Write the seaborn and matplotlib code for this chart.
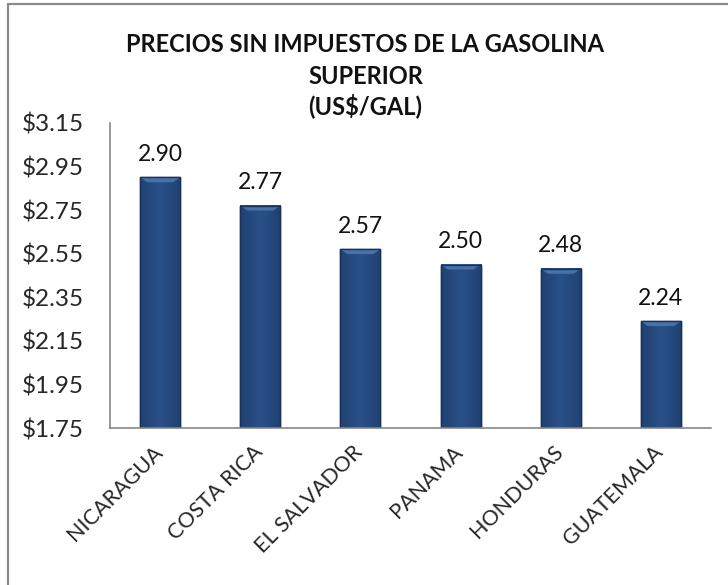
import numpy as np
import pandas as pd
import matplotlib
matplotlib.use("Agg")
import matplotlib.pyplot as plt
import matplotlib.transforms as mtrans
from matplotlib.patches import Rectangle
import seaborn as sns

countries = ["NICARAGUA", "COSTA RICA", "EL SALVADOR", "PANAMA", "HONDURAS", "GUATEMALA"]
prices = [2.90, 2.77, 2.57, 2.50, 2.48, 2.24]
value_labels = ["2.90", "2.77", "2.57", "2.50", "2.48", "2.24"]
ytick_values = [1.75, 1.95, 2.15, 2.35, 2.55, 2.75, 2.95, 3.15]
title_lines = ["PRECIOS SIN IMPUESTOS DE LA GASOLINA", "SUPERIOR", "(US$/GAL)"]

sns.set_style("white")
plt.rcParams['font.family'] = ['Lato', 'DejaVu Sans']

df = pd.DataFrame({"country": countries, "price": prices})

fig = plt.figure(figsize=(7.28, 5.85), dpi=100)
ax = fig.add_axes([110/728, 1-428/585, (711-110)/728, (428-123)/585])

sns.barplot(data=df, x="country", y="price", color="#24487C", width=0.4,
            edgecolor="#18325A", linewidth=1.0, ax=ax, saturation=1)

ymin, ymax = 1.75, 3.15
ax.set_ylim(ymin, ymax)
ax.set_xlim(-0.5, len(countries) - 0.5)

# bevel-like shading on bars
grad = np.linspace(0, 1, 64)
shade = 1 - 0.55 * np.abs(grad - 0.5) * 2
base_dark = np.array([0x1A, 0x36, 0x60]) / 255
base_mid = np.array([0x29, 0x50, 0x88]) / 255
img = base_dark[None, :] + (base_mid - base_dark)[None, :] * shade[:, None]
img = img[None, :, :]
top_col = np.array([0x48, 0x72, 0xA8]) / 255
for p in list(ax.patches):
    x0, w = p.get_x(), p.get_width()
    top = p.get_y() + p.get_height()
    y0 = ymin
    h = top - y0
    ax.imshow(img, extent=[x0, x0 + w, y0, top], aspect="auto",
              zorder=p.get_zorder() + 0.1, interpolation="bilinear")
    ax.fill([x0, x0 + w, x0 + w * 0.82, x0 + w * 0.18],
            [top, top, top - 0.022, top - 0.022],
            color=top_col, zorder=p.get_zorder() + 0.2, lw=0)
    ax.add_patch(Rectangle((x0, y0), w, h, fill=False, edgecolor="#18325A",
                           lw=1.0, zorder=p.get_zorder() + 0.3))
ax.set_xlim(-0.5, len(countries) - 0.5)
ax.set_ylim(ymin, ymax)

ax.set_yticks(ytick_values)
ax.set_yticklabels([f"${v:.2f}" for v in ytick_values], fontsize=17.5)
ax.set_xlabel("")
ax.set_ylabel("")

ax.set_xticks(np.arange(len(countries)))
ax.set_xticklabels(countries, fontsize=15.5, rotation=45, ha="right", rotation_mode="anchor")
ax.tick_params(axis="x", which="major", length=0, pad=10)
ax.set_xticks(np.arange(-0.5, len(countries)), minor=True)
ax.tick_params(axis="x", which="minor", length=6, width=1.2, color="#868686", direction="out")
ax.tick_params(axis="y", length=7, width=1.2, color="#868686", direction="out", pad=12)
offset = mtrans.ScaledTranslation(-8/100, 0, fig.dpi_scale_trans)
for lbl in ax.get_xticklabels():
    lbl.set_transform(lbl.get_transform() + offset)

for s in ["top", "right"]:
    ax.spines[s].set_visible(False)
for s in ["left", "bottom"]:
    ax.spines[s].set_color("#868686")
    ax.spines[s].set_linewidth(1.2)
    ax.spines[s].set_zorder(10)

for i, (v, t) in enumerate(zip(prices, value_labels)):
    ax.annotate(t, (i, v), xytext=(0, 9), textcoords="offset points",
                ha="center", va="bottom", fontsize=16.5, color="#111111")

ys = [45, 76, 106]
for line, y in zip(title_lines, ys):
    fig.text(0.502, 1 - y/585, line, ha="center", va="center",
             fontsize=17, fontweight="bold", color="#111111")

fig.patches.append(Rectangle((8/728, -0.1), 1.2, 1 - 4/585 + 0.1,
                             transform=fig.transFigure, fill=False,
                             edgecolor="#8A8A8A", linewidth=1.6))

fig.savefig("out.png", dpi=100)
